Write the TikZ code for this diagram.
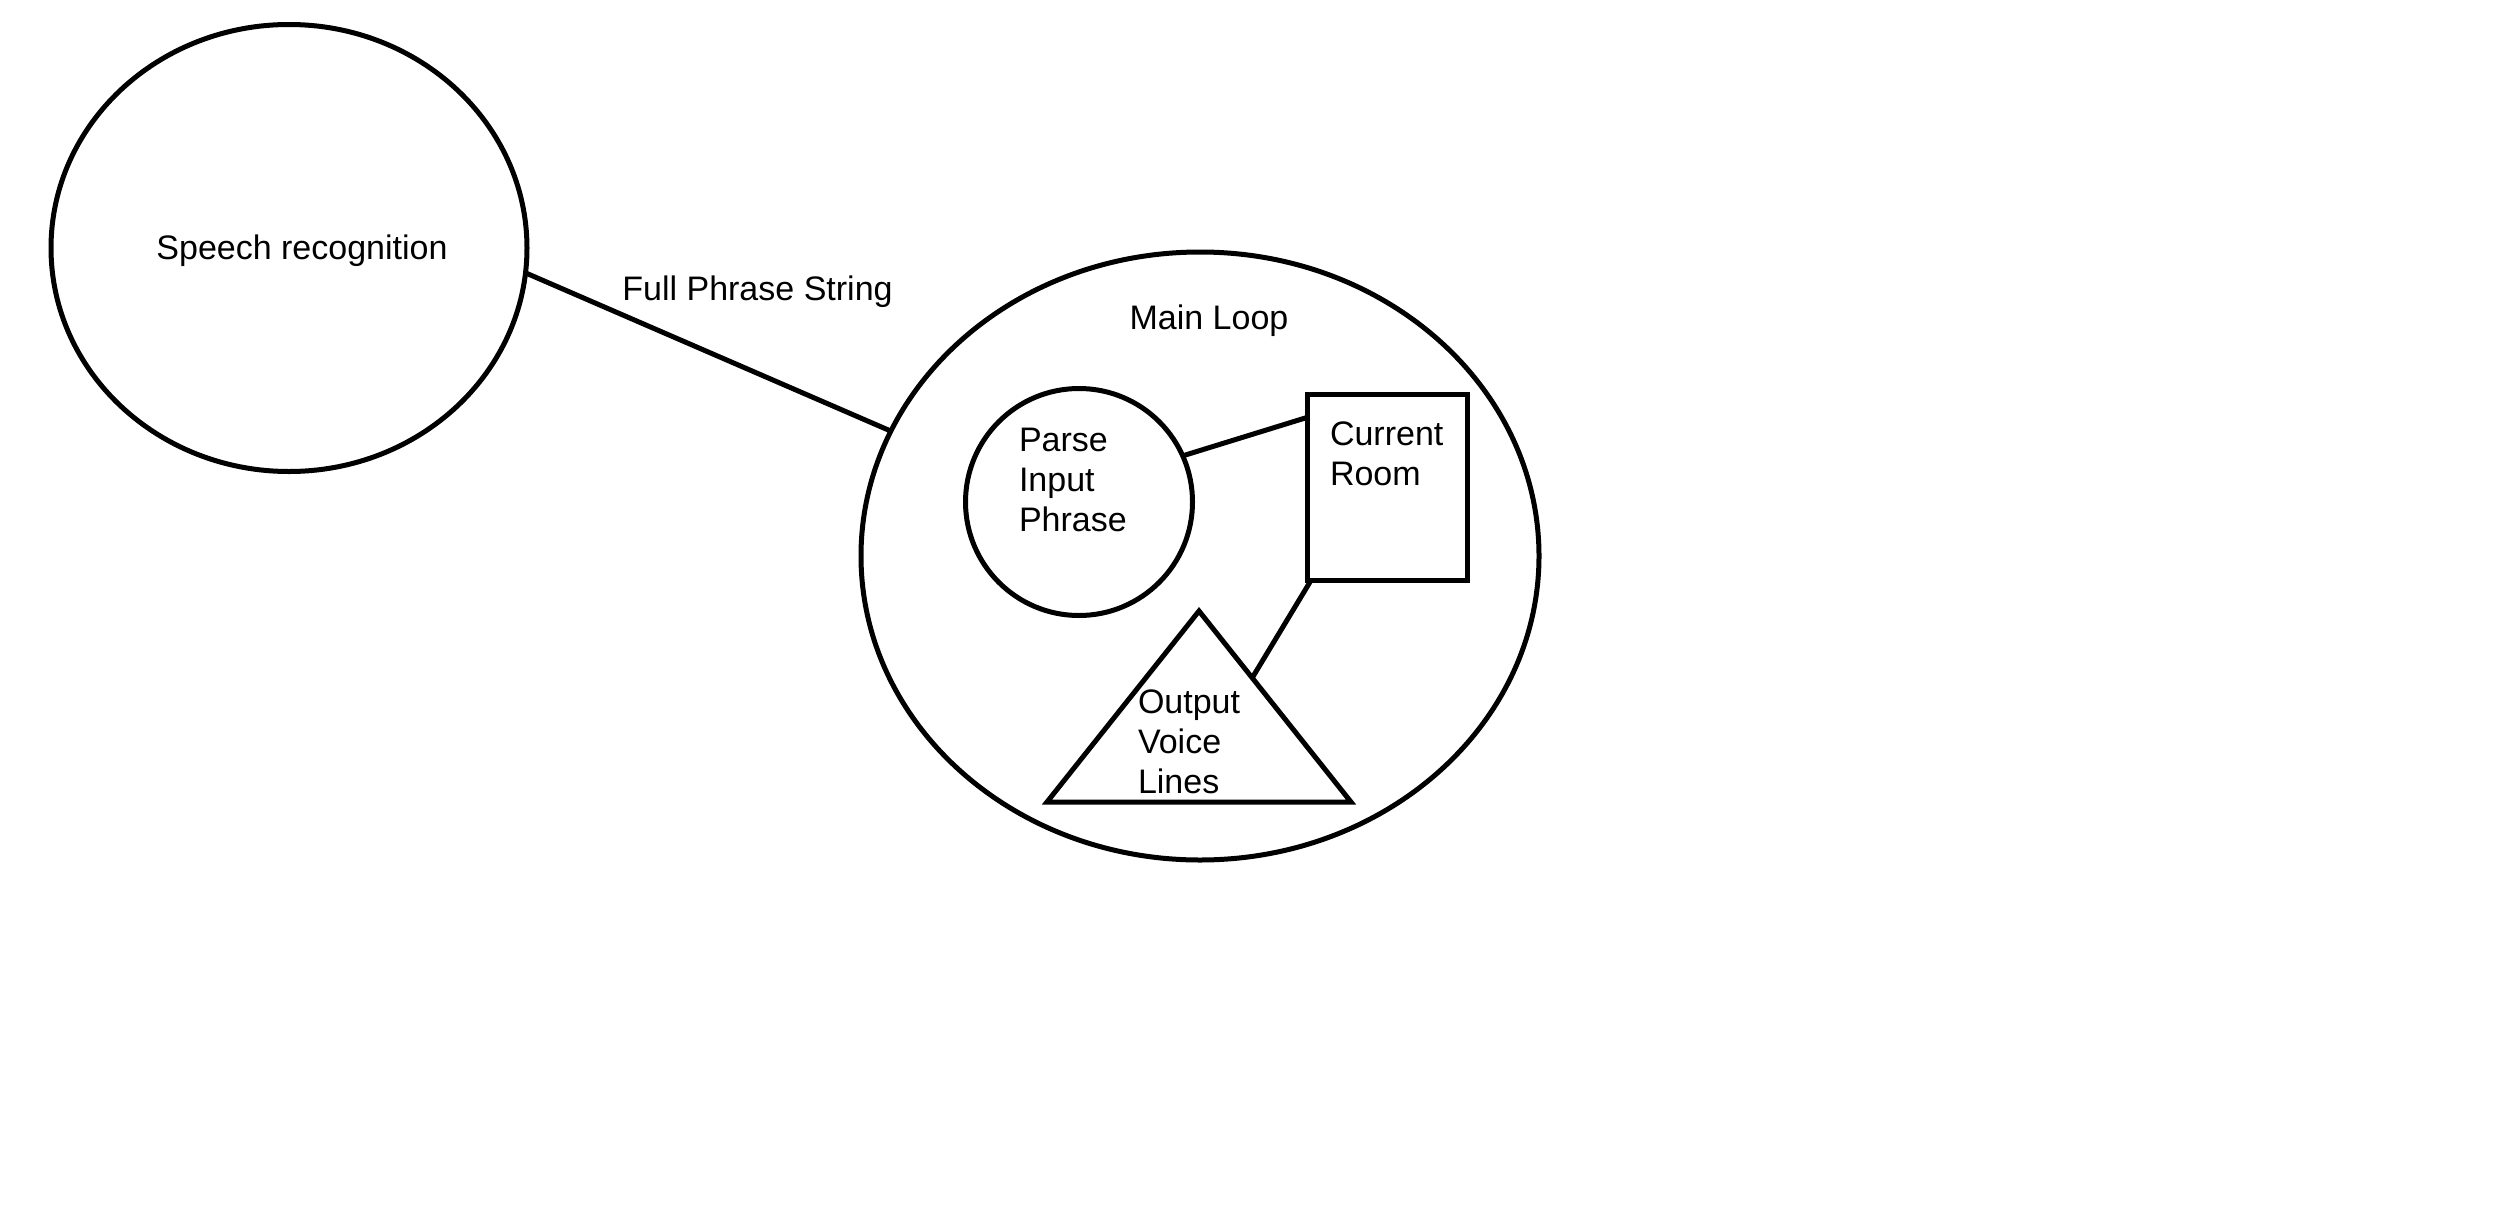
\documentclass[tikz,border=0pt]{standalone}
\usepackage{fontspec}
\setmainfont{Liberation Sans}
\usetikzlibrary{shapes.geometric,calc}
\begin{document}
\begin{tikzpicture}[x=0.5pt,y=-0.5pt,
  shapeline/.style={draw=black,line width=2.5pt,inner sep=0pt,outer sep=0pt},
  conn/.style={draw=black,line width=2.5pt},
  txt/.style={inner sep=0pt,outer sep=0pt,font=\fontsize{17}{20}\selectfont,align=left}]
\useasboundingbox[fill=white] (0,0) rectangle (2505,1226);
% shapes
\node[shapeline,ellipse,minimum width=238pt,minimum height=223.5pt] (sp) at (289,248) {};
\node[shapeline,ellipse,minimum width=339pt,minimum height=304pt] (ml) at (1200,556) {};
\node[shapeline,circle,minimum size=113.5pt] (pi) at (1079,502) {};
\node[shapeline,rectangle,minimum width=80pt,minimum height=93pt] (cr) at (1387,487) {};
\coordinate (ta) at (1199,611);
\coordinate (tl) at (1047,802);
\coordinate (tr) at (1351,802);
\draw[line width=2.5pt,line join=miter] (ta) -- (tr) -- (tl) -- cycle;
\coordinate (tc) at ($(ta)!0.35!(tr)$);
% texts
\node[txt,anchor=base] (spt) at (302,259) {Speech recognition};
\node[txt,anchor=base] (fps) at (757.5,300) {Full Phrase String};
\node[txt,anchor=base] (mlt) at (1209,329) {Main Loop};
\node[txt,anchor=base west] (pit) at (1019,531) {Parse\\Input\\Phrase};
\node[txt,anchor=base west] (crt) at (1330,485) {Current\\Room};
\node[txt,anchor=base west] (ovt) at (1138,793) {Output\\Voice\\Lines};
% connectors
\draw[conn] (sp.-6) -- (ml.158.3);
\draw[conn] (pi.24) -- (cr.139.2);
\draw[conn] ($(cr.south west)+(3,2)$) -- (tc);
\end{tikzpicture}
\end{document}
